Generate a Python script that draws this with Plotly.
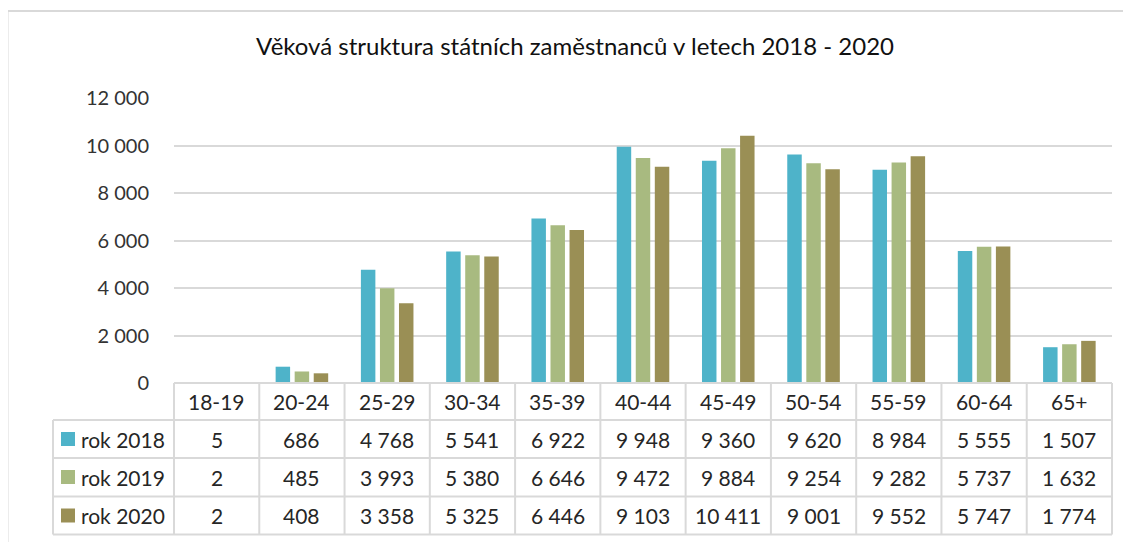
import plotly.graph_objects as go

categories = ["18-19", "20-24", "25-29", "30-34", "35-39", "40-44", "45-49", "50-54", "55-59", "60-64", "65+"]
rok_2018 = [5, 686, 4768, 5541, 6922, 9948, 9360, 9620, 8984, 5555, 1507]
rok_2019 = [2, 485, 3993, 5380, 6646, 9472, 9884, 9254, 9282, 5737, 1632]
rok_2020 = [2, 408, 3358, 5325, 6446, 9103, 10411, 9001, 9552, 5747, 1774]
series_names = ["rok 2018", "rok 2019", "rok 2020"]
series_values = [rok_2018, rok_2019, rok_2020]
colors = ["#4EB3C9", "#A8BA80", "#9A8F55"]
title_text = "Věková struktura státních zaměstnanců v letech 2018 - 2020"

# page has an 8px body margin; figure is placed at (8, 8)
OFF = 8
W, H = 1123, 534
ML, MR, MT, MB = 166, 19, 90, 8
PW = W - ML - MR
PH = H - MT - MB

def px_x(px):
    return (px - OFF - ML) / PW

def px_y(py):
    return (H - MB - (py - OFF)) / PH

FONT = "Lato"
GRID = "#D9D9D9"
TXT = "#262626"
TS = 21

fig = go.Figure()
for name, vals, col in zip(series_names, series_values, colors):
    fig.add_trace(go.Bar(x=categories, y=vals, name=name, marker=dict(color=col, line=dict(width=0)),
                         hoverinfo="x+y+name"))

shapes = []
annotations = []
n = len(categories)
line = dict(color=GRID, width=2)

header_top = px_y(383)
row_bounds = [px_y(420), px_y(458), px_y(496.5), px_y(534.5)]
label_left = px_x(53)

shapes.append(dict(type="line", xref="paper", yref="paper", x0=0, x1=1, y0=header_top, y1=header_top, line=line))
for yb in row_bounds:
    shapes.append(dict(type="line", xref="paper", yref="paper", x0=label_left, x1=1, y0=yb, y1=yb, line=line))
for k in range(n + 1):
    xk = k / n
    shapes.append(dict(type="line", xref="paper", yref="paper", x0=xk, x1=xk, y0=row_bounds[-1], y1=header_top, line=line))
shapes.append(dict(type="line", xref="paper", yref="paper", x0=label_left, x1=label_left, y0=row_bounds[-1], y1=row_bounds[0], line=line))

# outer chart frame
shapes.append(dict(type="rect", xref="paper", yref="paper", x0=px_x(7.5), x1=px_x(1160), y0=px_y(11), y1=px_y(560),
                   line=dict(color=GRID, width=2), fillcolor="rgba(0,0,0,0)", layer="below"))

hdr_c = px_y(401.5)
for c in categories:
    annotations.append(dict(x=c, xref="x", y=hdr_c, yref="paper", text=c, showarrow=False,
                            font=dict(family=FONT, size=TS, color=TXT), xanchor="center", yanchor="middle"))

row_centers = [px_y(439), px_y(477), px_y(515.5)]
for name, vals, col, yc in zip(series_names, series_values, colors, row_centers):
    sq = 7 / PH
    shapes.append(dict(type="rect", xref="paper", yref="paper", x0=px_x(61), x1=px_x(75), y0=yc - sq, y1=yc + sq,
                       fillcolor=col, line=dict(width=0)))
    annotations.append(dict(x=px_x(79), xref="paper", y=yc, yref="paper", text=name, showarrow=False,
                            font=dict(family=FONT, size=TS, color=TXT), xanchor="left", yanchor="middle"))
    for c, v in zip(categories, vals):
        annotations.append(dict(x=c, xref="x", y=yc, yref="paper", text=f"{v:,}".replace(",", " "), showarrow=False,
                                font=dict(family=FONT, size=TS, color=TXT), xanchor="center", yanchor="middle"))

fig.update_layout(
    width=W, height=H,
    margin=dict(l=ML, r=MR, t=MT, b=MB, autoexpand=False),
    paper_bgcolor="white", plot_bgcolor="white",
    separators=", ",
    barmode="group", bargap=0.33, bargroupgap=0.24,
    showlegend=False,
    title=dict(text=title_text, x=px_x(575), xref="paper", xanchor="center",
               y=1 - (47 - OFF) / H, yref="container", yanchor="middle",
               font=dict(family=FONT, size=24, color="#111111")),
    xaxis=dict(range=[-0.5, n - 0.5], showticklabels=False, showgrid=False, zeroline=False, showline=False,
               fixedrange=True, automargin=False),
    yaxis=dict(domain=[header_top, 1], range=[0, 12000], dtick=2000, tickformat=",d",
               showgrid=True, gridcolor=GRID, gridwidth=2, zeroline=False, showline=False,
               ticks="", ticklabelstandoff=24, automargin=False,
               tickfont=dict(family=FONT, size=20, color="#333333")),
    shapes=shapes,
    annotations=annotations,
)

fig.write_html("out.html")
